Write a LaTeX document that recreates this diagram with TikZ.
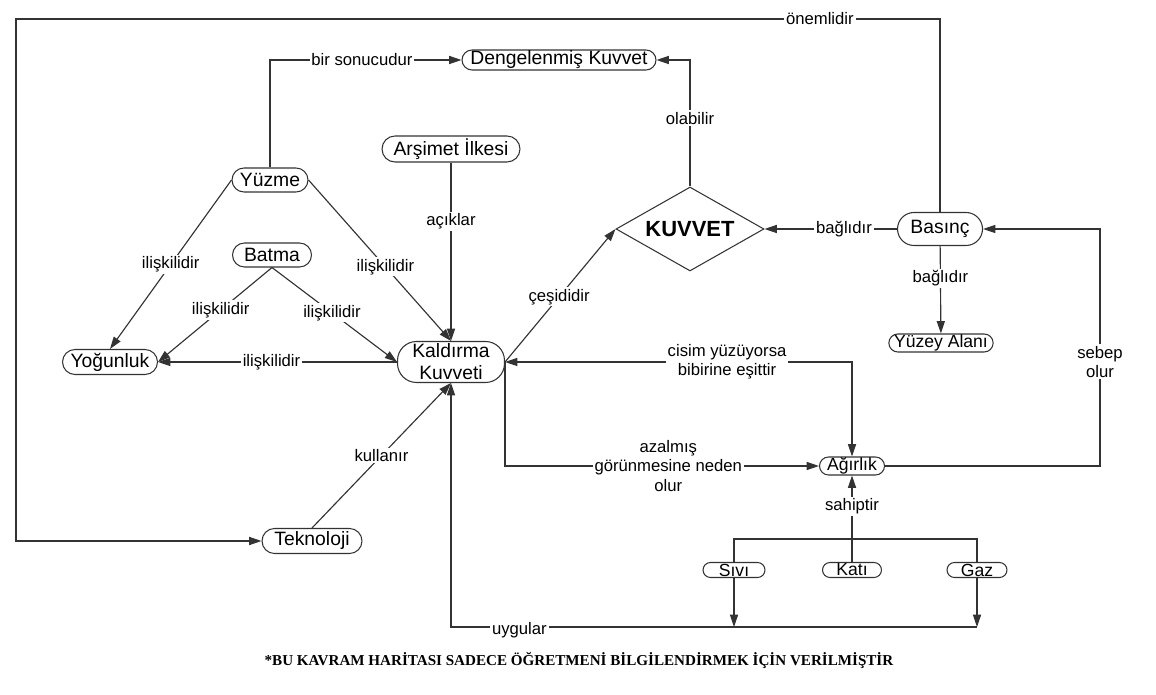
\documentclass[tikz,border=0pt]{standalone}
\usepackage{fontspec}
\setmainfont{Liberation Sans}
\newfontfamily\notefont{Liberation Serif}
\usetikzlibrary{arrows.meta,shapes,positioning}

\begin{document}
\begin{tikzpicture}[x=0.02cm, y=-0.02cm, >={Triangle[length=7pt,width=4.6pt]},
  concept/.style={draw=black!80, line width=0.6pt, rectangle, rounded corners=0.24cm,
    minimum height=0.48cm, inner xsep=3pt, inner ysep=0pt, font=\fontsize{11}{12.5}\selectfont},
  leaf/.style={concept, rounded corners=0.18cm, minimum height=0.36cm, font=\fontsize{10}{11}\selectfont},
  lbl/.style={fill=white, inner sep=1pt, align=center, font=\fontsize{9.5}{11}\selectfont},
  link/.style={draw=black!80, line width=0.65pt}]

  \useasboundingbox (0,0) rectangle (1156,695);

  % Concepts
  \node[concept, minimum width=3.88cm, minimum height=0.4cm, rounded corners=0.2cm] (denge) at (559,60) {Dengelenmiş Kuvvet};
  \node[concept, minimum width=2.76cm, minimum height=0.52cm, rounded corners=0.26cm] (arsimet) at (451,149) {Arşimet İlkesi};
  \node[concept, minimum width=1.52cm] (yuzme) at (270,180) {Yüzme};
  \node[concept, minimum width=1.58cm] (batma) at (272,255) {Batma};
  \node[concept, minimum width=1.9cm, minimum height=0.5cm, rounded corners=0.25cm] (yogunluk) at (110,362) {Yoğunluk};
  \node[concept, minimum width=2.14cm, minimum height=0.82cm, rounded corners=0.38cm, align=center] (kaldirma) at (451,362) {Kaldırma\\Kuvveti};
  \node[diamond, draw=black!80, line width=0.6pt, aspect=1.76, inner sep=0pt,
    minimum width=2.96cm, minimum height=1.68cm, font=\fontsize{12.5}{14}\selectfont\bfseries] (kuvvet) at (690,229) {KUVVET};
  \node[concept, minimum width=1.7cm, minimum height=0.66cm, rounded corners=0.33cm] (basinc) at (940,229) {Basınç};
  \node[leaf, minimum width=1.96cm] (yuzey) at (941,343) {Yüzey Alanı};
  \node[leaf, minimum width=1.3cm] (agirlik) at (852,466) {Ağırlık};
  \node[concept, minimum width=2.0cm, minimum height=0.5cm, rounded corners=0.25cm] (teknoloji) at (312,541) {Teknoloji};

  % States of matter
  \node[leaf, minimum width=1.24cm, minimum height=0.3cm, rounded corners=0.15cm] (sivi) at (734,570) {Sıvı};
  \node[leaf, minimum width=1.18cm, minimum height=0.3cm, rounded corners=0.15cm] (kati) at (852,570) {Katı};
  \node[leaf, minimum width=1.2cm, minimum height=0.3cm, rounded corners=0.15cm] (gaz) at (977,570) {Gaz};

  % Bend points
  \coordinate (topR) at (940,19);
  \coordinate (topL) at (16,19);
  \coordinate (botL) at (16,541);
  \coordinate (sebepB) at (1100,466);
  \coordinate (sebepT) at (1100,229);
  \coordinate (barL) at (734,539);
  \coordinate (barR) at (977,539);
  \coordinate (siviB) at (734,627);
  \coordinate (gazB) at (977,627);

  % Links
  \draw[link,->] (basinc) -- (topR) -- node[lbl,pos=0.13]{önemlidir} (topL) -- (botL) -- (teknoloji);
  \draw[link,->] (yuzme) |- node[lbl,pos=0.74]{bir sonucudur} (denge);
  \draw[link,->] (kuvvet) |- node[lbl,pos=0.27]{olabilir} (denge);
  \draw[link,->] (basinc) -- node[lbl,pos=0.4]{bağlıdır} (kuvvet);
  \draw[link,->] (basinc) -- node[lbl,pos=0.37]{bağlıdır} (yuzey);
  \draw[link,->] (agirlik) -- (sebepB) -- node[lbl,pos=0.44]{sebep\\olur} (sebepT) -- (basinc);
  \draw[link,<->] (kaldirma) -| node[lbl,pos=0.32]{cisim yüzüyorsa\\bibirine eşittir} (agirlik);
  \draw[link,->] (kaldirma.east) |- node[lbl,pos=0.76]{azalmış\\görünmesine neden\\olur} (agirlik);
  \draw[link,->] (kati) -- node[lbl,pos=0.64]{sahiptir} (agirlik);
  \draw[link] (sivi) -- (barL) -- (barR) -- (gaz);
  \draw[link,->] (sivi) -- (siviB);
  \draw[link,->] (gaz) -- (gazB);
  \draw[link,->] (gazB) -| node[lbl,pos=0.435,yshift=-2pt]{uygular} (kaldirma);
  \draw[link,->] (teknoloji.north) -- node[lbl,pos=0.5]{kullanır} (kaldirma.south);
  \draw[link,->] (arsimet) -- node[lbl,pos=0.33]{açıklar} (kaldirma);
  \draw[link,->] (yuzme.east) -- node[lbl,pos=0.54]{ilişkilidir} (kaldirma.north);
  \draw[link,->] (yuzme.west) -- node[lbl,pos=0.5]{ilişkilidir} (yogunluk.north);
  \draw[link,->] (batma.south) -- node[lbl,pos=0.45]{ilişkilidir} (yogunluk.east);
  \draw[link,->] (batma.south) -- node[lbl,pos=0.48]{ilişkilidir} (kaldirma.west);
  \draw[link,->] (kaldirma.west) -- node[lbl,pos=0.525]{ilişkilidir} (yogunluk.east);
  \draw[link,->] (kaldirma.east) -- node[lbl,pos=0.49]{çeşididir} (kuvvet.west);

  % Footnote
  \node[font=\notefont\bfseries\fontsize{8.6}{10}\selectfont] (note) at (579,660)
    {*BU KAVRAM HARİTASI SADECE ÖĞRETMENİ BİLGİLENDİRMEK İÇİN VERİLMİŞTİR};
\end{tikzpicture}
\end{document}
